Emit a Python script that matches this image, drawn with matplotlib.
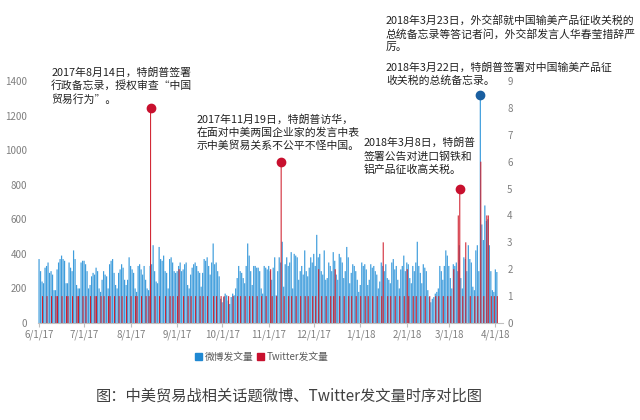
import matplotlib
matplotlib.use('Agg')
import matplotlib.pyplot as plt
import matplotlib.dates as mdates
import matplotlib.patches as mpatches
import numpy as np
import pandas as pd

plt.rcParams['font.family'] = ['Noto Sans CJK SC', 'DejaVu Sans']

# daily weibo posts, 2017-06-01 .. 2018-04-02
weibo_jun = [370, 300, 240, 230, 320, 330, 350, 290, 300, 280, 190, 190, 310, 350, 370,
             390, 370, 360, 230, 230, 350, 320, 300, 420, 370, 220, 200, 200, 350, 360]
weibo_jul = [360, 340, 300, 200, 220, 270, 290, 280, 320, 300, 200, 180, 250, 300, 280, 270,
             200, 340, 360, 370, 290, 220, 200, 290, 310, 340, 320, 250, 220, 250, 380]
weibo_aug = [330, 310, 290, 200, 180, 330, 340, 310, 280, 330, 250, 200, 190, 330, 340, 450,
             300, 240, 230, 440, 370, 360, 390, 300, 290, 200, 370, 380, 350, 300, 290]
weibo_sep = [300, 330, 350, 300, 310, 340, 350, 220, 200, 280, 320, 340, 350, 330, 300,
             290, 210, 290, 370, 360, 380, 330, 280, 350, 460, 340, 350, 300, 270, 140]
weibo_oct = [120, 150, 170, 160, 130, 110, 150, 170, 160, 200, 260, 330, 300, 290, 260, 230,
             330, 460, 390, 300, 220, 330, 330, 320, 320, 300, 200, 170, 330, 320, 310]
weibo_nov = [330, 300, 250, 320, 380, 160, 300, 380, 350, 470, 210, 340, 380, 330, 350,
             410, 200, 400, 390, 380, 250, 300, 330, 280, 420, 300, 270, 320, 380, 350]
weibo_dec = [400, 330, 510, 380, 400, 300, 280, 420, 250, 260, 350, 330, 300, 410, 360, 280,
             250, 400, 380, 350, 260, 300, 440, 380, 230, 290, 340, 330, 300, 250, 180]
weibo_jan = [220, 350, 330, 340, 310, 220, 250, 340, 320, 330, 300, 280, 200, 240, 350, 330,
             300, 340, 260, 250, 230, 350, 370, 310, 330, 250, 200, 310, 330, 390, 300]
weibo_feb = [350, 340, 260, 230, 330, 300, 350, 470, 330, 290, 230, 340, 320, 300,
             190, 150, 120, 140, 150, 170, 180, 200, 330, 300, 250, 330, 420, 390]
weibo_mar = [330, 260, 200, 340, 330, 350, 300, 450, 260, 200, 380, 370, 300, 450, 370, 350,
             210, 190, 420, 450, 300, 1320, 570, 480, 680, 590, 600, 450, 300, 190, 180]
weibo_apr = [310, 295]

# daily twitter posts, same days
twitter_jun = [0, 0, 1, 0, 0, 1, 0, 0, 1, 0, 0, 1, 1, 0, 0, 1, 0, 0, 1, 1, 0, 0, 1, 0, 0, 1, 1, 0, 0, 1]
twitter_jul = [0, 1, 0, 0, 1, 0, 0, 1, 1, 0, 0, 1, 0, 1, 0, 0, 1, 1, 0, 0, 1, 0, 0, 1, 0, 1, 0, 0, 1, 0, 0]
twitter_aug = [1, 0, 0, 1, 1, 0, 0, 1, 0, 0, 1, 0, 1, 8, 0, 0, 1, 0, 0, 1, 0, 0, 0, 1, 0, 0, 1, 0, 1, 0, 0]
twitter_sep = [1, 2, 0, 0, 1, 0, 0, 1, 0, 1, 0, 0, 1, 0, 0, 1, 0, 1, 0, 0, 1, 0, 0, 0, 1, 0, 1, 0, 0, 1]
twitter_oct = [0, 1, 0, 0, 1, 0, 0, 1, 0, 0, 1, 0, 1, 0, 0, 1, 0, 0, 1, 0, 1, 0, 0, 1, 0, 0, 1, 0, 0, 1, 0]
twitter_nov = [0, 2, 1, 0, 0, 1, 0, 0, 6, 0, 1, 0, 0, 1, 0, 1, 0, 0, 1, 0, 0, 1, 0, 0, 1, 0, 1, 0, 0, 1]
twitter_dec = [0, 1, 0, 2, 0, 1, 0, 0, 1, 0, 0, 1, 0, 1, 2, 0, 0, 1, 0, 0, 1, 0, 0, 1, 0, 1, 0, 0, 1, 0, 0]
twitter_jan = [1, 0, 0, 1, 0, 1, 0, 0, 1, 0, 0, 1, 0, 0, 1, 3, 0, 0, 1, 0, 1, 0, 0, 1, 0, 0, 1, 0, 0, 1, 0]
twitter_feb = [2, 1, 0, 0, 1, 0, 1, 0, 0, 1, 0, 0, 1, 0, 0, 1, 0, 0, 0, 1, 0, 1, 0, 0, 1, 0, 0, 1]
twitter_mar = [0, 1, 0, 2, 0, 0, 4, 5, 0, 1, 0, 3, 0, 0, 1, 0, 0, 1, 0, 1, 0, 6, 0, 1, 0, 4, 4, 0, 1, 0, 1]
twitter_apr = [0, 1]

weibo = np.array(weibo_jun + weibo_jul + weibo_aug + weibo_sep + weibo_oct + weibo_nov +
                 weibo_dec + weibo_jan + weibo_feb + weibo_mar + weibo_apr)
twitter = np.array(twitter_jun + twitter_jul + twitter_aug + twitter_sep + twitter_oct +
                   twitter_nov + twitter_dec + twitter_jan + twitter_feb + twitter_mar + twitter_apr)
days = mdates.date2num(pd.date_range('2017-06-01', periods=len(weibo), freq='D'))

tick_dates = pd.date_range('2017-06-01', '2018-04-01', freq='MS')
tick_labels = ['6/1/17', '7/1/17', '8/1/17', '9/1/17', '10/1/17', '11/1/17',
               '12/1/17', '1/1/18', '2/1/18', '3/1/18', '4/1/18']

series_names = ['微博发文量', 'Twitter发文量']
twitter_events = ['2017-08-14', '2017-11-09', '2018-03-08']
weibo_event = '2018-03-22'

# (anchor date, top on the right axis, lines)
notes = [
    ('2017-06-09', 9.52, ['2017年8月14日，特朗普签署', '行政备忘录，授权审查“中国', '贸易行为”。']),
    ('2017-09-14', 7.78, ['2017年11月19日，特朗普访华，', '在面对中美两国企业家的发言中表',
                          '示中美贸易关系不公平不怪中国。']),
    ('2018-01-03', 6.89, ['2018年3月8日，特朗普', '签署公告对进口钢铁和', '铝产品征收高关税。']),
    ('2018-01-18', 11.45, ['2018年3月23日，外交部就中国输美产品征收关税的',
                           '总统备忘录等答记者问，外交部发言人华春莹措辞严', '厉。']),
    ('2018-01-18', 9.7, ['2018年3月22日，特朗普签署对中国输美产品征', '收关税的总统备忘录。']),
]

blue = '#3f9ddc'
red = '#d0202e'
grey = '#7f7f7f'

fig = plt.figure(figsize=(6.4, 4.2), dpi=100)
ax = fig.add_axes([38 / 640, 1 - 323 / 420, 465 / 640, 242 / 420])
ax2 = ax.twinx()

ax.bar(days - 0.1, weibo, width=0.8, color=blue, linewidth=0, snap=False)
ax2.bar(days + 0.2, twitter, width=0.7, color=red, linewidth=0, snap=False)

# lollipop heads on the event days
for d in twitter_events:
    i = int(np.where(days == mdates.date2num(pd.Timestamp(d)))[0][0])
    ax2.plot(days[i] + 0.2, twitter[i], 'o', color='#c8102e', ms=6, clip_on=False)
i = int(np.where(days == mdates.date2num(pd.Timestamp(weibo_event)))[0][0])
ax2.plot(days[i] - 0.1, weibo[i] * 9 / 1400, 'o', color='#1a5fa0', ms=6, clip_on=False)

ax.set_xlim(days[0] - 0.8, days[-1] + 4)
ax.set_ylim(0, 1400)
ax2.set_ylim(0, 9)
ax.set_yticks(range(0, 1401, 200))
ax2.set_yticks(range(0, 10))
ax.set_xticks(mdates.date2num(tick_dates))
ax.set_xticklabels(tick_labels)

for a in (ax, ax2):
    for s in a.spines.values():
        s.set_visible(False)
ax.spines['bottom'].set_visible(True)
ax.spines['bottom'].set_color('#bfbfbf')
ax.tick_params(axis='x', length=3, color='#bfbfbf', labelsize=7, labelcolor=grey, pad=2)
ax.tick_params(axis='y', length=0, labelsize=7, labelcolor=grey, pad=8)
ax2.tick_params(axis='y', length=0, labelsize=7, labelcolor=grey, pad=3)

# one text per line, 13.5 px apart
step = 13.5 * 9 / 242
for d, y, lines in notes:
    for k, line in enumerate(lines):
        ax2.text(mdates.date2num(pd.Timestamp(d)), y - k * step, line, ha='left', va='top',
                 fontsize=7.8, color='#222222', clip_on=False)

handles = [mpatches.Patch(color='#1f88d2'), mpatches.Patch(color='#c8102e')]
fig.legend(handles, series_names, loc='center', bbox_to_anchor=(262 / 640, 1 - 357 / 420),
           ncol=2, frameon=False, fontsize=7, handlelength=0.7, handleheight=0.7,
           handletextpad=0.3, columnspacing=0.4, labelcolor='#595959')

fig.text(289 / 640, 1 - 396 / 420, '图：中美贸易战相关话题微博、Twitter发文量时序对比图',
         ha='center', va='center', fontsize=11, color='#404040')

fig.savefig('out.png', dpi=100)
